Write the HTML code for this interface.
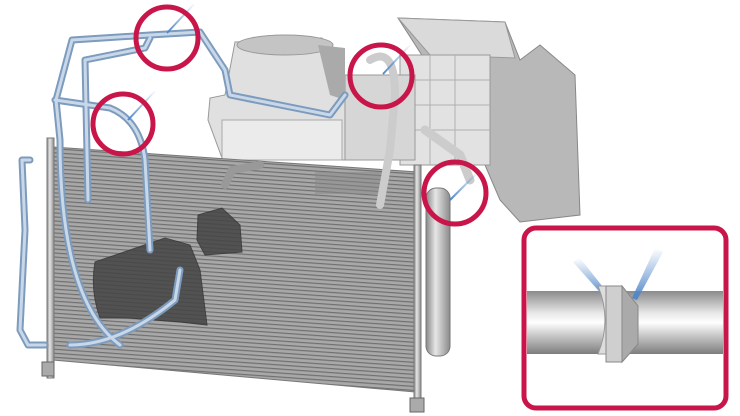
<!DOCTYPE html><html><head><style>body{margin:0;background:#fff}svg{display:block}</style></head><body>
<svg width="740" height="416" viewBox="0 0 740 416" xmlns="http://www.w3.org/2000/svg">
<defs>
<pattern id="fin" width="6" height="4" patternUnits="userSpaceOnUse" patternTransform="rotate(4)"><rect width="6" height="4" fill="#a8a8a8"/><rect width="6" height="1.2" fill="#707070"/></pattern>
<linearGradient id="pipe" x1="0" y1="0" x2="0" y2="1"><stop offset="0" stop-color="#8a8a8a"/><stop offset=".35" stop-color="#e8e8e8"/><stop offset=".5" stop-color="#fff"/><stop offset=".75" stop-color="#bdbdbd"/><stop offset="1" stop-color="#7d7d7d"/></linearGradient>
<linearGradient id="cyl" x1="0" y1="0" x2="1" y2="0"><stop offset="0" stop-color="#888"/><stop offset=".4" stop-color="#e6e6e6"/><stop offset="1" stop-color="#8a8a8a"/></linearGradient>
<linearGradient id="beam" x1="0" y1="1" x2="0" y2="0"><stop offset="0" stop-color="#4f86c9"/><stop offset="1" stop-color="#4f86c9" stop-opacity="0"/></linearGradient>
</defs>
<!-- HVAC right tall box -->
<polygon points="398,18 505,22 520,60 540,45 575,75 580,215 520,222 500,200 470,130" fill="#b8b8b8" stroke="#888"/>
<polygon points="398,18 505,22 515,58 430,55" fill="#dadada" stroke="#999"/>
<rect x="400" y="55" width="90" height="110" fill="#e2e2e2" stroke="#999"/>
<g stroke="#b0b0b0"><line x1="400" y1="80" x2="490" y2="80"/><line x1="400" y1="105" x2="490" y2="105"/><line x1="400" y1="130" x2="490" y2="130"/><line x1="430" y1="55" x2="430" y2="165"/><line x1="455" y1="55" x2="455" y2="165"/></g>
<rect x="335" y="75" width="80" height="85" fill="#d6d6d6" stroke="#999"/>
<polygon points="235,42 322,38 345,75 345,160 222,158 208,120 210,98 225,95" fill="#e0e0e0" stroke="#999"/>
<rect x="222" y="120" width="120" height="40" fill="#ebebeb" stroke="#aaa"/>
<ellipse cx="285" cy="45" rx="48" ry="10" fill="#c4c4c4" stroke="#999"/>
<polygon points="318,45 345,48 345,100 330,95" fill="#aaa"/>
<!-- condenser -->
<polygon points="53,147 418,172 415,392 53,360" fill="url(#fin)" stroke="#777"/>
<rect x="315" y="172" width="70" height="22" fill="#888" opacity=".5"/>
<!-- compressor -->
<g opacity=".85">
<path d="M95,262 L130,250 L165,238 L190,245 L200,270 L207,325 L180,322 L130,318 L100,318 Q90,290 95,262Z" fill="#444" stroke="#333"/>
<path d="M198,215 L222,208 L240,225 L242,252 L205,255 L197,240Z" fill="#444" stroke="#333"/>
</g>
<rect x="47" y="138" width="7" height="240" fill="url(#cyl)" stroke="#777"/>
<rect x="414" y="165" width="7" height="245" fill="url(#cyl)" stroke="#777"/>
<rect x="42" y="362" width="12" height="14" fill="#aaa" stroke="#666"/>
<rect x="410" y="398" width="14" height="14" fill="#aaa" stroke="#666"/>
<rect x="426" y="188" width="24" height="168" rx="10" fill="url(#cyl)" stroke="#777"/>
<!-- pipes -->
<g fill="none" stroke-linecap="round" stroke-linejoin="round">
<g stroke="#7d9bbd" stroke-width="7">
<path d="M120,345 Q60,300 60,140 L56,100 L72,40 L150,35 L200,32 L225,70 L230,95 L330,115 L345,95"/>
<path d="M88,200 L85,60 L145,48 L150,38"/>
<path d="M55,100 L110,108 Q140,120 145,160 L150,250"/>
<path d="M30,160 L22,160 L25,230 L20,330 L28,345 L45,345"/>
<path d="M70,345 Q120,345 175,300 L180,270"/>
</g>
<g stroke="#c9d8e8" stroke-width="3">
<path d="M120,345 Q60,300 60,140 L56,100 L72,40 L150,35 L200,32 L225,70 L230,95 L330,115 L345,95"/>
<path d="M88,200 L85,60 L145,48 L150,38"/>
<path d="M55,100 L110,108 Q140,120 145,160 L150,250"/>
<path d="M30,160 L22,160 L25,230 L20,330 L28,345 L45,345"/>
<path d="M70,345 Q120,345 175,300 L180,270"/>
</g>
<path d="M225,185 L232,170 L260,165" stroke="#999" stroke-width="8"/>
<path d="M370,60 Q395,45 395,95 L390,150 L380,205" stroke="#ccc" stroke-width="8"/>
<path d="M425,130 L460,155 L470,180" stroke="#ccc" stroke-width="9"/>
</g>
<g stroke-width="2"><line x1="167" y1="33" x2="195" y2="3" stroke="url(#beam)"/><line x1="128" y1="120" x2="156" y2="90" stroke="url(#beam)"/><line x1="383" y1="74" x2="411" y2="44" stroke="url(#beam)"/><line x1="450" y1="200" x2="478" y2="172" stroke="url(#beam)"/></g>
<g fill="none" stroke="#c8164a" stroke-width="5"><circle cx="167" cy="38" r="31"/><circle cx="381" cy="76" r="31"/><circle cx="123" cy="124" r="30"/><circle cx="455" cy="193" r="31"/></g>
<!-- inset -->
<rect x="524" y="228" width="202" height="180" rx="12" fill="#fff" stroke="#c8164a" stroke-width="5"/>
<rect x="527" y="291" width="196" height="63" fill="url(#pipe)"/>
<polygon points="573,262 605,298 610,296 580,258" fill="url(#beam)"/>
<polygon points="655,248 632,298 637,300 663,252" fill="url(#beam)"/>
<path d="M598,286 L606,286 Q622,320 606,354 L598,354 Q612,320 598,286Z" fill="#ddd" stroke="#999"/>
<polygon points="606,286 622,286 638,306 638,344 622,362 606,362 Q625,324 606,286Z" fill="#cfcfcf" stroke="#888"/>
<polygon points="622,286 638,306 638,344 622,362" fill="#aaa" stroke="#888"/>
</svg></body></html>
